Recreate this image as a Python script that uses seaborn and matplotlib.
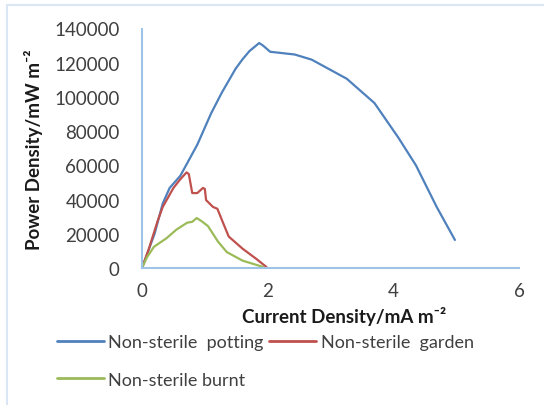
import matplotlib
matplotlib.use("Agg")
import matplotlib.pyplot as plt
from matplotlib.lines import Line2D
import seaborn as sns
import pandas as pd

# Data
potting_x = [0.0, 0.20, 0.33, 0.44, 0.61, 0.745, 0.88, 1.10, 1.27, 1.49, 1.60, 1.71, 1.865, 1.93, 2.04, 2.43, 2.70, 3.26, 3.70, 4.08, 4.36, 4.69, 4.98]
potting_y = [0, 20000, 37700, 46800, 53900, 63000, 72100, 90400, 102500, 116500, 122000, 126800, 131500, 129900, 126400, 124800, 121800, 110600, 96400, 76200, 60000, 35700, 16400]

garden_x = [0.0, 0.11, 0.25, 0.33, 0.50, 0.61, 0.71, 0.745, 0.80, 0.88, 0.97, 1.00, 1.02, 1.13, 1.20, 1.30, 1.38, 1.60, 1.82, 1.98]
garden_y = [0, 11300, 27600, 35700, 46800, 51900, 55900, 54900, 43800, 43800, 46800, 46200, 39700, 35700, 34600, 25500, 18400, 11300, 5300, 600]

burnt_x = [0.0, 0.08, 0.19, 0.39, 0.55, 0.72, 0.80, 0.87, 0.94, 1.05, 1.21, 1.35, 1.60, 1.93]
burnt_y = [0, 6300, 12400, 17400, 22500, 26500, 27000, 29200, 27600, 24500, 15400, 9300, 4300, 600]

series_names = ["Non-sterile  potting", "Non-sterile  garden", "Non-sterile burnt"]
series_colors = ["#4F81BD", "#C0504D", "#9BBB59"]
x_ticks = [0, 2, 4, 6]
y_ticks = [0, 20000, 40000, 60000, 80000, 100000, 120000, 140000]

frames = []
for name, xs, ys in zip(series_names, [potting_x, garden_x, burnt_x], [potting_y, garden_y, burnt_y]):
    frames.append(pd.DataFrame({"x": xs, "y": ys, "series": name}))
df = pd.concat(frames, ignore_index=True)

sns.set_theme(style="white")
plt.rcParams["font.family"] = ["Lato", "DejaVu Sans"]

fig = plt.figure(figsize=(5.44, 4.06), dpi=100)
ax = fig.add_axes([142 / 544, 1 - 269 / 406, (519 - 142) / 544, (269 - 29.5) / 406])

sns.lineplot(data=df, x="x", y="y", hue="series", palette=dict(zip(series_names, series_colors)),
             sort=False, estimator=None, units="series", linewidth=1.6, ax=ax, legend=False)

ax.set_xlim(0, 6)
ax.set_ylim(0, 140000)
ax.set_xticks(x_ticks)
ax.set_yticks(y_ticks)
ax.set_xticklabels([str(t) for t in x_ticks])
ax.set_yticklabels([str(t) for t in y_ticks])
ax.tick_params(axis="x", length=0, pad=10, labelsize=13.5, labelcolor="#404040")
ax.tick_params(axis="y", length=0, pad=16, labelsize=13.5, labelcolor="#404040")

for s in ["top", "right"]:
    ax.spines[s].set_visible(False)
for s in ["left", "bottom"]:
    ax.spines[s].set_color("#9DC3E6")
    ax.spines[s].set_linewidth(1.5)

ax.set_xlabel("Current Density/mA m\u207b\u00b2", fontsize=13.5, fontweight="bold", color="#1a1a1a")
ax.set_ylabel("Power Density/mW m\u207b\u00b2", fontsize=13.5, fontweight="bold", color="#1a1a1a", labelpad=8)
ax.xaxis.set_label_coords((344 - 142) / (519 - 142), -0.16)

handles = [Line2D([0], [0], color=c, lw=2) for c in series_colors]
# column-major filling: first column potting + burnt, second column garden
order = [0, 2, 1]
fig.legend([handles[i] for i in order], [series_names[i] for i in order],
           loc="upper left", bbox_to_anchor=(48 / 544, 1 - 326 / 406),
           ncol=2, frameon=False, fontsize=13, handlelength=2.6, handletextpad=0.25,
           columnspacing=0.3, labelspacing=1.2, borderpad=0, labelcolor="#404040")

# light outer border as in the reference
fig.add_artist(Line2D([7 / 544, 7 / 544], [0, 1 - 6 / 406], color="#DAE6F4", lw=1.5, transform=fig.transFigure))
fig.add_artist(Line2D([7 / 544, 1], [1 - 6 / 406, 1 - 6 / 406], color="#DAE6F4", lw=1.5, transform=fig.transFigure))

fig.savefig("out.png", dpi=100)
